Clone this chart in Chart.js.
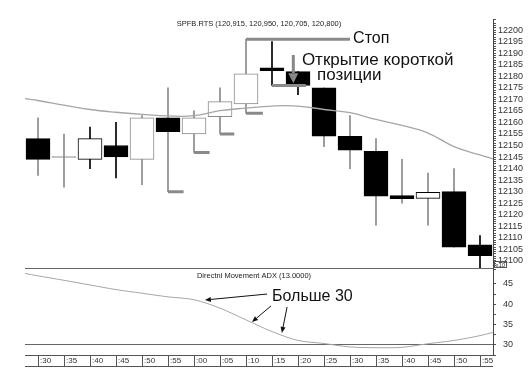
<!DOCTYPE html>
<html>
<head>
<meta charset="utf-8">
<script src="https://cdn.jsdelivr.net/npm/chart.js@4.4.1/dist/chart.umd.min.js"></script>
<style>
  html, body { margin: 0; padding: 0; background: #fff; }
  #wrap { position: relative; width: 531px; height: 371px; overflow: hidden; }
  #priceChart { position: absolute; left: 0; top: 0; }
  #adxChart { position: absolute; left: 0; top: 269px; }
</style>
</head>
<body>
<div id="wrap">
  <canvas id="priceChart" width="531" height="270"></canvas>
  <canvas id="adxChart" width="531" height="102"></canvas>
</div>
<script>
// 5-minute bars
const times = [':30', ':35', ':40', ':45', ':50', ':55', ':00', ':05', ':10',
               ':15', ':20', ':25', ':30', ':35', ':40', ':45', ':50', ':55'];
const openPrices  = [12153, 12145.2, 12144, 12150, 12144, 12162, 12155, 12162.5, 12168,
                     12183.6, 12182, 12175, 12154, 12147.5, 12128.3, 12127.1, 12130, 12107];
const closePrices = [12144, 12144.8, 12153, 12145, 12162, 12156, 12162, 12169, 12181,
                     12182.4, 12176, 12154, 12148, 12128, 12127, 12129.7, 12106, 12102.3];
const highPrices  = [12162, 12155, 12158, 12160, 12163, 12175, 12165, 12175, 12196,
                     12195, 12182, 12175, 12163, 12153, 12144, 12138, 12140, 12111];
const lowPrices   = [12137, 12132, 12140, 12136, 12133, 12130, 12147, 12155, 12164,
                     12176, 12172, 12149.5, 12140, 12115.5, 12125, 12115.5, 12106, 12096];

// moving average (values at the left edge, at each bar, at the right edge)
const maStart = 12170.3;
const maValues = [12169.5, 12167.5, 12165.6, 12164.4, 12163.5, 12162.8, 12162.9, 12165.1, 12166.2,
                  12167.1, 12167.1, 12165.6, 12164.2, 12161.3, 12158.7, 12155.4, 12149.5, 12145.9];
const maEnd = 12144.2;

// ADX (13)
const adxStart = 47.6;
const adxValues = [47.0, 45.9, 44.75, 43.6, 42.7, 41.8, 41.1, 39.0, 36.1,
                   33.2, 31.0, 30.25, 29.4, 29.2, 29.3, 30.2, 31.0, 32.2];
const adxEnd = 33.0;

// stop levels (grey dashes), bar index where they start and end
const stopLevels = [12130, 12147, 12155, 12164, 12196, 12176];
const stopFrom   = [5, 6, 7, 8, 8, 9];
const stopTo     = [5.6, 6.6, 7.55, 8.65, 12, 10.3];

const priceTitle = 'SPFB.RTS (120,915, 120,950, 120,705, 120,800)';
const adxTitle = 'Directnl Movement ADX (13.0000)';

const FONT = '"Liberation Sans", Arial, sans-serif';
const GRAY = '#8a8a8a';
const grayOutline = [1, 4, 6, 7, 8];
const blackWicks = [2, 3, 9, 10, 17];

function arrow(ctx, x1, y1, x2, y2, color, width, head, half) {
  const a = Math.atan2(y2 - y1, x2 - x1);
  const bx = x2 - Math.cos(a) * head, by = y2 - Math.sin(a) * head;
  ctx.save();
  ctx.strokeStyle = color;
  ctx.fillStyle = color;
  ctx.lineWidth = width;
  ctx.beginPath();
  ctx.moveTo(x1, y1);
  ctx.lineTo(bx, by);
  ctx.stroke();
  ctx.beginPath();
  ctx.moveTo(x2, y2);
  ctx.lineTo(bx + Math.sin(a) * half, by - Math.cos(a) * half);
  ctx.lineTo(bx - Math.sin(a) * half, by + Math.cos(a) * half);
  ctx.closePath();
  ctx.fill();
  ctx.restore();
}

// no extra room for tick labels at the ends of an axis
function tightY(width) {
  return s => { s.width = width; s.paddingTop = 0; s.paddingBottom = 0; };
}

const bodyFill = openPrices.map((o, i) => i === 1 ? GRAY : (closePrices[i] < o ? '#000' : '#fff'));
const bodyLine = openPrices.map((o, i) => grayOutline.includes(i) ? GRAY : '#000');
const wickColor = openPrices.map((o, i) => blackWicks.includes(i) ? '#000' : GRAY);

const maPoints = [{ x: -0.5, y: maStart }]
  .concat(maValues.map((v, i) => ({ x: i, y: v })))
  .concat([{ x: 17.5, y: maEnd }]);

const stopPoints = [];
stopLevels.forEach((lvl, i) => {
  stopPoints.push({ x: stopFrom[i], y: lvl }, { x: stopTo[i], y: lvl }, { x: stopTo[i], y: null });
});

const adxPoints = [{ x: -0.5, y: adxStart }]
  .concat(adxValues.map((v, i) => ({ x: i, y: v })))
  .concat([{ x: 17.5, y: adxEnd }]);

const pricePlugin = {
  id: 'priceNotes',
  afterDraw(chart) {
    const { ctx, chartArea: a, scales } = chart;
    const px = v => scales.x2.getPixelForValue(v);
    const py = v => scales.y.getPixelForValue(v);
    ctx.save();
    ctx.strokeStyle = '#666';
    ctx.lineWidth = 1;
    ctx.beginPath();
    ctx.moveTo(a.left, Math.round(a.bottom) - 0.5);
    ctx.lineTo(a.right, Math.round(a.bottom) - 0.5);
    ctx.stroke();

    ctx.fillStyle = '#222';
    ctx.font = '7.5px ' + FONT;
    ctx.textAlign = 'center';
    ctx.textBaseline = 'middle';
    ctx.fillText(priceTitle, (a.left + a.right) / 2, a.top + 5);

    // entry arrow over bar 11
    arrow(ctx, px(9.82), py(12189.2), px(9.82), py(12177), '#888', 3, 10, 5);

    ctx.fillStyle = '#111';
    ctx.textAlign = 'left';
    ctx.textBaseline = 'alphabetic';
    ctx.font = '16px ' + FONT;
    ctx.fillText('Стоп', px(12.12), py(12194.6));
    ctx.font = '17px ' + FONT;
    ctx.fillText('Открытие короткой', px(10.15), py(12184.8));
    ctx.fillText('позиции', px(10.73), py(12178.4));

    // x10 marker at the axis corner
    ctx.strokeStyle = '#555';
    ctx.strokeRect(a.right + 1.5, a.bottom - 7.5, 12, 6);
    ctx.fillStyle = '#333';
    ctx.font = '6px ' + FONT;
    ctx.fillText('x10', a.right + 2.5, a.bottom - 2);
    ctx.restore();
  }
};

new Chart(document.getElementById('priceChart'), {
  type: 'bar',
  data: {
    labels: times,
    datasets: [
      {
        type: 'line', label: 'stop', xAxisID: 'x2',
        data: stopPoints, borderColor: GRAY, borderWidth: 3,
        pointRadius: 0, spanGaps: false, order: 0
      },
      {
        type: 'line', label: 'MA', xAxisID: 'x2',
        data: maPoints, borderColor: '#a6a6a6', borderWidth: 1.3,
        pointRadius: 0, tension: 0.4, order: 1
      },
      {
        label: 'body',
        data: openPrices.map((o, i) => [o, closePrices[i]]),
        backgroundColor: bodyFill, borderColor: bodyLine, borderWidth: 1,
        borderSkipped: false, barThickness: 24, grouped: false, order: 2
      },
      {
        label: 'wick',
        data: lowPrices.map((l, i) => [l, highPrices[i]]),
        backgroundColor: wickColor, borderWidth: 0,
        barThickness: 1, grouped: false, order: 3
      }
    ]
  },
  options: {
    responsive: false,
    animation: false,
    events: [],
    layout: { padding: { left: 25, top: 19, right: 0, bottom: 1 } },
    plugins: { legend: { display: false }, tooltip: { enabled: false } },
    scales: {
      x: { display: false, offset: true },
      x2: { type: 'linear', display: false, offset: false, min: -0.5, max: 17.5 },
      y: {
        position: 'right', min: 12096.5, max: 12204.8,
        afterFit: tightY(38),
        border: { color: '#444' },
        grid: { drawOnChartArea: false, tickLength: 3, color: '#555' },
        ticks: {
          stepSize: 1, autoSkip: false, padding: 2, color: '#333',
          font: { family: FONT, size: 9 },
          callback: v => (v % 5 === 0 ? String(v) : '')
        }
      }
    }
  },
  plugins: [pricePlugin]
});

const adxPlugin = {
  id: 'adxNotes',
  afterDraw(chart) {
    const { ctx, chartArea: a, scales } = chart;
    const px = v => scales.x.getPixelForValue(v);
    const py = v => scales.y.getPixelForValue(v);
    ctx.save();
    ctx.strokeStyle = '#555';
    ctx.lineWidth = 1;
    ctx.beginPath();
    ctx.moveTo(a.left, Math.round(scales.x.bottom) - 0.5);
    ctx.lineTo(a.right, Math.round(scales.x.bottom) - 0.5);
    ctx.stroke();

    ctx.fillStyle = '#222';
    ctx.font = '7.5px ' + FONT;
    ctx.textAlign = 'center';
    ctx.textBaseline = 'middle';
    ctx.fillText(adxTitle, (a.left + a.right) / 2 - 5, a.top + 7);

    ctx.fillStyle = '#111';
    ctx.textAlign = 'left';
    ctx.textBaseline = 'alphabetic';
    ctx.font = '16px ' + FONT;
    ctx.fillText('Больше 30', px(9.0), py(40.8));

    arrow(ctx, px(8.81), py(42.5), px(6.42), py(41.02), '#111', 1, 6, 2.5);
    arrow(ctx, px(8.96), py(39.54), px(8.23), py(35.57), '#111', 1, 6, 2.5);
    arrow(ctx, px(9.58), py(39.29), px(9.38), py(32.85), '#111', 1, 6, 2.5);
    ctx.restore();
  }
};

new Chart(document.getElementById('adxChart'), {
  type: 'line',
  data: {
    datasets: [{
      label: 'ADX', data: adxPoints, borderColor: '#a6a6a6', borderWidth: 1,
      pointRadius: 0, tension: 0.3
    }]
  },
  options: {
    responsive: false,
    animation: false,
    events: [],
    layout: { padding: { left: 25, top: 0, right: 0, bottom: 4 } },
    plugins: { legend: { display: false }, tooltip: { enabled: false } },
    scales: {
      x: {
        type: 'linear', offset: false, min: -0.5, max: 17.5,
        afterBuildTicks: s => { s.ticks = times.map((t, i) => ({ value: i })); },
        afterFit: s => { s.height = 12; s.paddingLeft = 0; s.paddingRight = 0; },
        border: { color: '#555' },
        grid: { drawOnChartArea: false, tickLength: 12, color: '#555' },
        ticks: {
          autoSkip: false, maxRotation: 0, align: 'start',
          labelOffset: 2, padding: -11, color: '#333',
          font: { family: FONT, size: 8 },
          callback: v => times[Math.round(v)]
        }
      },
      y: {
        position: 'right', min: 27.4, max: 48.7,
        afterFit: tightY(38),
        border: { color: '#444' },
        grid: {
          color: c => (c.tick && c.tick.value === 30 ? '#666' : 'rgba(0,0,0,0)'),
          tickColor: '#555', tickLength: 3
        },
        ticks: {
          stepSize: 2.5, autoSkip: false, padding: 7, color: '#333',
          font: { family: FONT, size: 9 },
          callback: v => (v % 5 === 0 ? String(v) : '')
        }
      }
    }
  },
  plugins: [adxPlugin]
});
</script>
</body>
</html>
